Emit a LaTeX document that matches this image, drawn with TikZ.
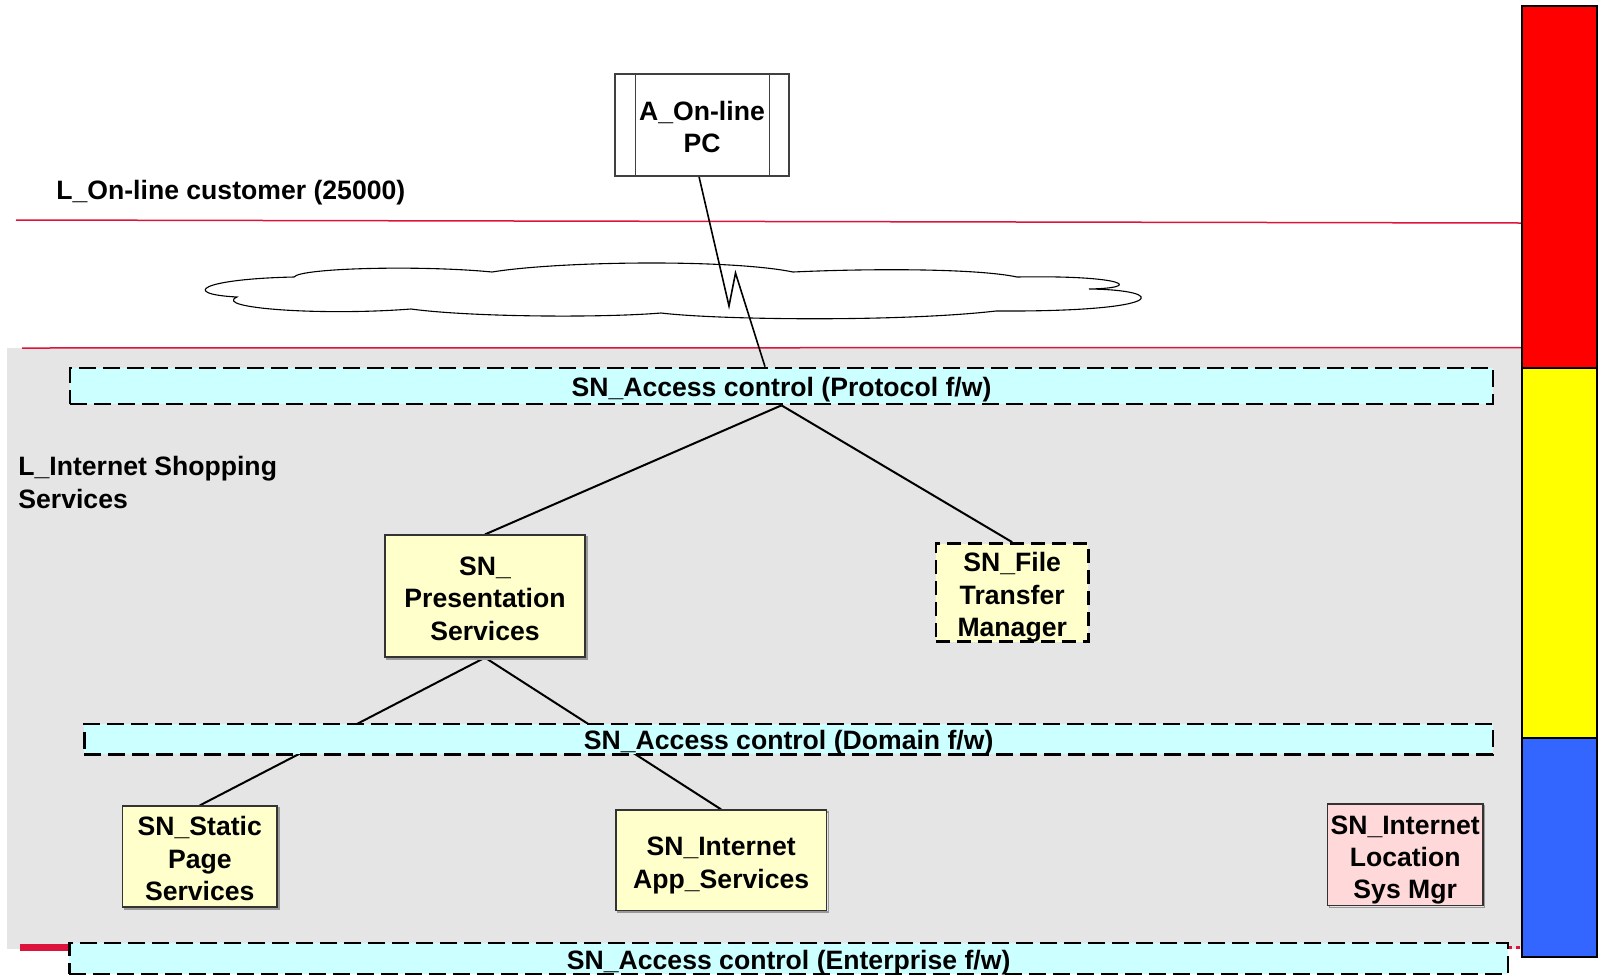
\documentclass[tikz,border=0pt]{standalone}
\usepackage{fontspec}
\setmainfont{Liberation Sans}
\usetikzlibrary{calc}

\definecolor{bggray}{HTML}{E5E5E5}
\definecolor{fwcyan}{HTML}{CCFFFF}
\definecolor{svcyellow}{HTML}{FFFFCC}
\definecolor{mgrpink}{HTML}{FFD9D9}
\definecolor{layerred}{HTML}{DC143C}
\definecolor{barred}{HTML}{FF0000}
\definecolor{baryellow}{HTML}{FFFF00}
\definecolor{barblue}{HTML}{3366FF}

\pgfdeclarelayer{bg}
\pgfsetlayers{bg,main}

\begin{document}
\begin{tikzpicture}[x=0.5pt,y=-0.5pt,
  lbl/.style={font=\fontsize{13.3}{16.2}\selectfont\bfseries, inner sep=0pt, align=center},
  % fixed text-box extents keep each text block just below its box centre
  twoline/.style={text height=27.9pt, text depth=0pt},
  threeline/.style={text height=44.1pt, text depth=0pt},
  shade/.style={preaction={draw=black!40, line width=0.7pt,
      transform canvas={shift={(0.9pt,-0.9pt)}}}},
  svc/.style={lbl, shade, draw=black!80, line width=0.6pt, fill=svcyellow},
  mgr/.style={lbl, shade, draw=black!80, line width=0.6pt, fill=mgrpink},
  fwdash/.style={draw=black, line width=1.35pt, dash pattern=on 8.5pt off 3.5pt},
  firewall/.style={lbl, fwdash, fill=fwcyan, text height=10.5pt, text depth=0pt},
  actor/.style={lbl, draw=black!75, line width=0.6pt, fill=white},
  link/.style={draw=black, line width=1pt},
  layerline/.style={draw=layerred, line width=0.75pt},
  barpart/.style={draw=black, line width=0.6pt}
]
\useasboundingbox (0,0) rectangle (1602,976);

% ---------- nodes ----------
\node[actor, twoline, minimum width=87pt, minimum height=51pt] (pc) at (702,125) {A\_On-line\\PC};
\draw[black!75, line width=0.6pt]
  ([xshift=10.5pt]pc.north west) -- ([xshift=10.5pt]pc.south west)
  ([xshift=-10pt]pc.north east) -- ([xshift=-10pt]pc.south east);

\node[lbl, anchor=base west] (custlbl) at (56,199.3) {L\_On-line customer (25000)};
\node[lbl, anchor=north west, align=left] (shoplbl) at (18,456) {L\_Internet Shopping\\Services};

\node[firewall, minimum width=711.5pt, minimum height=18pt] (fwproto) at (781.5,386)
  {SN\_Access control (Protocol f/w)};

\node[svc, threeline, minimum width=100pt, minimum height=61pt] (pres) at (485,596)
  {SN\_\\Presentation\\Services};
\node[lbl, threeline, fwdash, fill=svcyellow, dash pattern=on 7pt off 3.5pt,
      minimum width=76.25pt, minimum height=49.1pt] (ftm) at (1012.2,592.6)
  {SN\_File\\Transfer\\Manager};

\node[firewall, minimum width=704.25pt, minimum height=15.25pt] (fwdom) at (788.7,739.2)
  {SN\_Access control (Domain f/w)};

\node[svc, threeline, minimum width=77.25pt, minimum height=50.5pt] (static) at (199.8,856.5)
  {SN\_Static\\Page\\Services};
\node[svc, twoline, minimum width=105.25pt, minimum height=50.15pt] (app) at (721.2,860.2)
  {SN\_Internet\\App\_Services};
\node[mgr, threeline, minimum width=77.75pt, minimum height=50.75pt] (locmgr) at (1405.2,854.8)
  {SN\_Internet\\Location\\Sys Mgr};

\node[firewall, minimum width=719.25pt, minimum height=15.5pt] (fwent) at (788.7,958.5)
  {SN\_Access control (Enterprise f/w)};

% ---------- layer bar on the right ----------
\draw[barpart, fill=barred]    (1522,6)   rectangle (1597,368);
\draw[barpart, fill=baryellow] (1522,368) rectangle (1597,738);
\draw[barpart, fill=barblue]   (1522,738) rectangle (1597,957);

% ---------- background, layer lines, network cloud, links ----------
\begin{pgfonlayer}{bg}
  \fill[bggray] (7,347.5) rectangle (1522,949);
  \draw[layerline] (16,220) -- (1522,223);
  \draw[layerline] (22,348) -- (1522,347.5);
  \draw[layerred, line width=3.5pt] (20,947) -- (70,947);
  \draw[layerred, line width=1.5pt, dash pattern=on 2pt off 2pt] (1508,947.5) -- (1522,947.5);

  % network cloud
  \draw[black, line width=0.55pt, fill=white]
    (237,297) .. controls (180,294) and (200,279) .. (294,277)
    .. controls (300,268) and (420,265) .. (492,272)
    .. controls (560,261) and (730,259) .. (793,272)
    .. controls (880,268) and (980,269) .. (1017,277)
    .. controls (1125,275) and (1145,288) .. (1089,289)
    .. controls (1170,290) and (1170,312) .. (996,311)
    .. controls (900,322) and (720,320) .. (661,313)
    .. controls (600,318) and (470,317) .. (411,309)
    .. controls (320,316) and (212,308) .. (237,297) -- cycle;

  % dial-in link through the network
  \coordinate (zig1) at (729,306);
  \coordinate (zig2) at (735.5,273);
  \draw[black, line width=0.8pt] ([xshift=-1.5pt]pc.south) -- (zig1) -- (zig2)
    -- ([xshift=-8.25pt]fwproto.north);

  % service links
  \draw[link] (fwproto.south) -- (pres.north);
  \draw[link] (fwproto.south) -- (ftm.north);
  \draw[link] (pres.south) -- (static.north);
  \draw[link] (pres.south) -- (app.north);
\end{pgfonlayer}
\end{tikzpicture}
\end{document}
